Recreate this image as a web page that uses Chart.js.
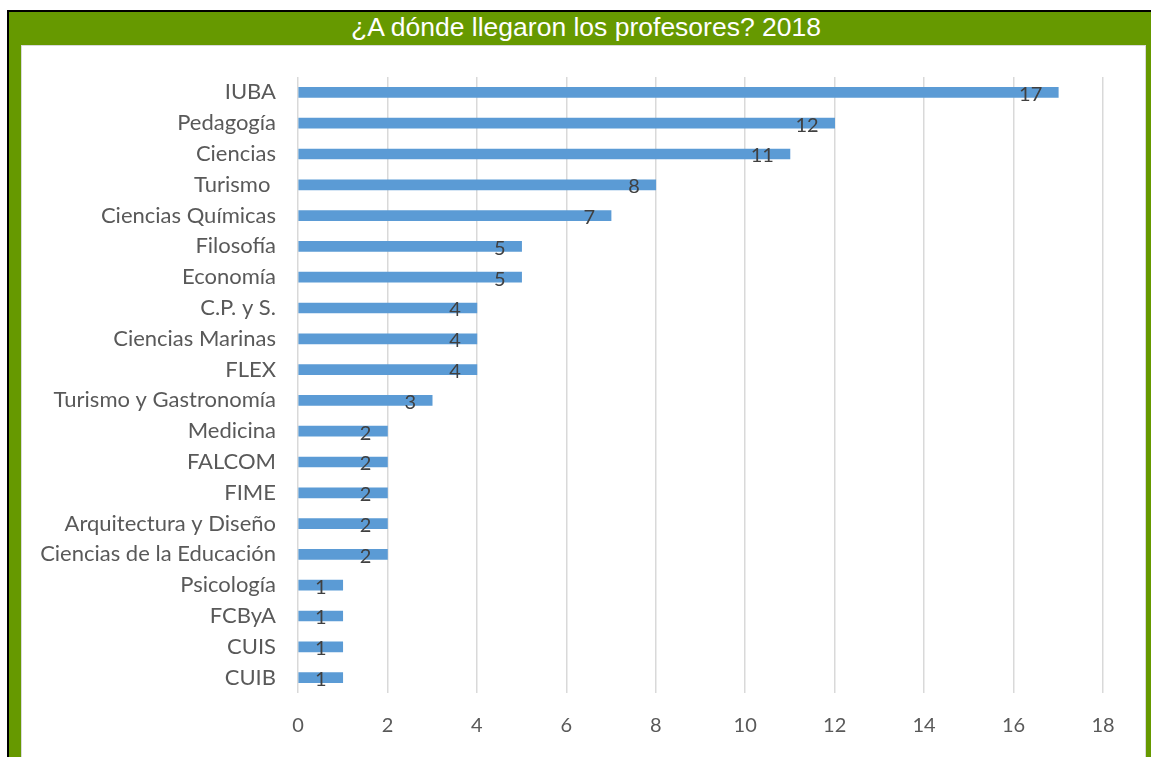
<!DOCTYPE html>
<html>
<head>
<meta charset="utf-8">
<script src="https://cdn.jsdelivr.net/npm/chart.js@4/dist/chart.umd.min.js"></script>
<style>
html,body{margin:0;padding:0;background:#fff;width:1151px;height:757px;overflow:hidden;}
#frame{position:absolute;left:7px;top:10px;width:1144px;height:747px;background:#669900;border-left:2px solid #000;border-top:2px solid #000;box-sizing:border-box;}
#title{position:absolute;left:7px;top:11px;width:1158px;height:33px;line-height:33px;text-align:center;color:#fff;font-family:"Liberation Sans",Arial,sans-serif;font-size:26.5px;}
#inner{position:absolute;left:21px;top:45px;width:1125px;height:720px;background:#fff;border:1px solid #d9d9d9;box-sizing:border-box;}
#wrap{position:absolute;left:22px;top:46px;width:1124px;height:711px;}
</style>
</head>
<body>
<div id="frame"></div>
<div id="title">¿A dónde llegaron los profesores? 2018</div>
<div id="inner"></div>
<div id="wrap"><canvas id="c"></canvas></div>
<script>
const categories = ["IUBA","Pedagogía","Ciencias","Turismo ","Ciencias Químicas","Filosofía","Economía","C.P. y S.","Ciencias Marinas","FLEX","Turismo y Gastronomía","Medicina","FALCOM","FIME","Arquitectura y Diseño","Ciencias de la Educación","Psicología","FCByA","CUIS","CUIB"];
const values = [17,12,11,8,7,5,5,4,4,4,3,2,2,2,2,2,1,1,1,1];
const xTicks = [0,2,4,6,8,10,12,14,16,18];

const labelPlugin = {
  id:'barLabels',
  afterDatasetsDraw(chart){
    const ctx = chart.ctx;
    const meta = chart.getDatasetMeta(0);
    ctx.save();
    ctx.font = '20px Lato, "Liberation Sans", sans-serif';
    ctx.fillStyle = '#404040';
    ctx.textAlign = 'right';
    ctx.textBaseline = 'middle';
    meta.data.forEach((bar,i)=>{
      ctx.fillText(String(values[i]), bar.x - 16, bar.y + 2);
    });
    ctx.restore();
  }
};

new Chart(document.getElementById('c'),{
  type:'bar',
  data:{labels:categories,datasets:[{data:values,backgroundColor:'#5b9bd5',barThickness:10}]},
  options:{
    indexAxis:'y',
    responsive:true,maintainAspectRatio:false,animation:false,
    layout:{padding:{top:31,right:43,left:0,bottom:0}},
    plugins:{legend:{display:false},tooltip:{enabled:false}},
    scales:{
      x:{min:0,max:18,
        afterBuildTicks(s){s.ticks = xTicks.map(v=>({value:v}));},
        afterFit(s){s.height = 64; s.paddingLeft = 0; s.paddingRight = 0;},
        grid:{color:'#d9d9d9',lineWidth:1.5,drawTicks:false},
        border:{display:false},
        ticks:{color:'#595959',font:{family:'Lato, "Liberation Sans", sans-serif',size:20},padding:21}
      },
      y:{
        afterFit(s){s.width = 276; s.paddingTop = 0; s.paddingBottom = 0;},
        grid:{display:false,drawTicks:false},
        border:{display:false},
        ticks:{color:'#595959',font:{family:'Lato, "Liberation Sans", sans-serif',size:22},padding:22,autoSkip:false}
      }
    }
  },
  plugins:[labelPlugin]
});
</script>
</body>
</html>
